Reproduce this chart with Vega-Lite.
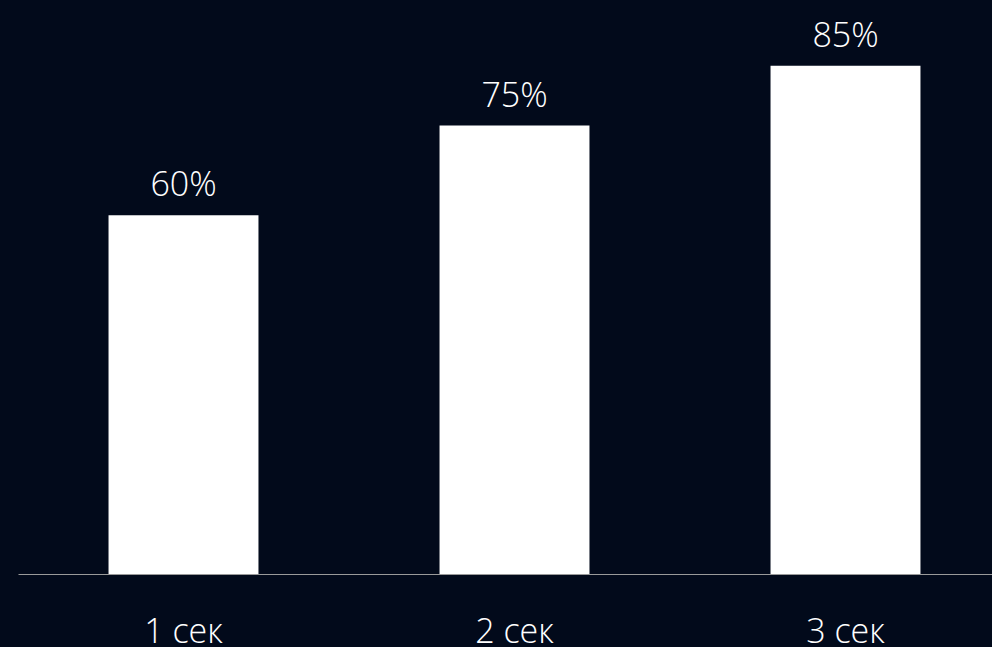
{
  "$schema": "https://vega.github.io/schema/vega-lite/v6.json",
  "autosize": "none",
  "width": 993,
  "height": 574,
  "padding": {"left": 18, "top": 0, "right": 0, "bottom": 73},
  "background": "#020a1b",
  "config": {"view": {"stroke": null}, "font": "Open Sans"},
  "data": {"values": [
    {"label": "1 сек", "value": 60, "text": "60%"},
    {"label": "2 сек", "value": 75, "text": "75%"},
    {"label": "3 сек", "value": 85, "text": "85%"}
  ]},
  "encoding": {
    "x": {"field": "label", "type": "nominal", "sort": null,
      "scale": {"paddingInner": 0.547, "paddingOuter": 0.2735},
      "axis": {"title": null, "labelAngle": 0, "ticks": false, "domainColor": "#9a9a9a", "domainWidth": 1.2,
        "labelColor": "#ffffff", "labelFont": "Open Sans", "labelFontWeight": 300, "labelFontSize": 34,
        "labelBaseline": "alphabetic", "labelPadding": 68}},
    "y": {"field": "value", "type": "quantitative", "scale": {"domain": [0, 96], "nice": false, "zero": true}, "axis": null}
  },
  "layer": [
    {"mark": {"type": "bar", "color": "#ffffff"}},
    {"mark": {"type": "text", "color": "#ffffff", "font": "Open Sans", "fontWeight": 300, "fontSize": 34, "baseline": "alphabetic", "dy": -19},
      "encoding": {"text": {"field": "text"}}}
  ]
}
